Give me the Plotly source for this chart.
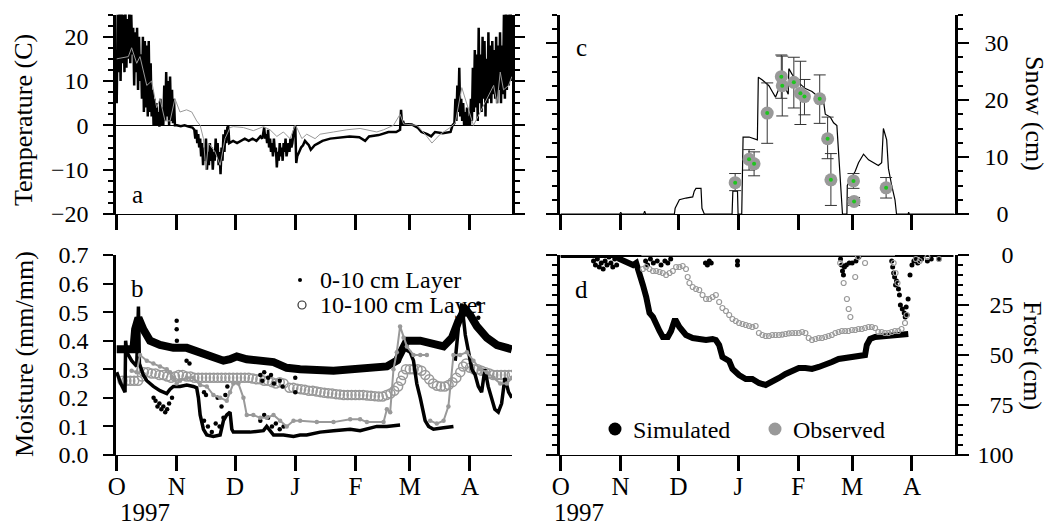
import pandas as pd
import plotly.graph_objects as go

BASE = pd.Timestamp("1997-10-01")

# ---------------- data (day offset from 1 Oct 1997, value) ----------------
month_ticks = ["1997-10-01", "1997-11-01", "1997-12-01", "1998-01-01",
               "1998-02-01", "1998-03-01", "1998-04-01"]
month_labels = ["O", "N", "D", "J", "F", "M", "A"]

# (a) temperature: simulated soil surface (black) and observed (grey)
temp_sim = [(0,5),(0.5,25),(1,12),(1.5,26),(2,10),(2.5,26),(3,14),(3.5,25),(4,12),(4.5,26),
            (5,13),(5.5,24),(6,15),(6.5,26),(7,14),(7.5,25),(8,16),(8.5,22),(9,9),(9.5,21),
            (10,12),(10.5,22),(11,8),(11.5,20),(12,10),(12.5,16),(13,6),(13.5,20),(14,3),(14.5,19),
            (15,4),(15.5,18),(16,2),(16.5,19),(17,3),(17.5,14),(18,2),(18.5,8),(19,0),(19.5,6),
            (20,0),(20.5,5),(21,0),(21.5,3),(22,-0.3),(22.5,6),(23,0),(23.5,4),(24,0),(24.5,9),
            (25,1),(25.5,12),(26,2),(26.5,10),(27,0),(27.5,11),(28,1),(28.5,8),(29,0.5),(29.5,6),
            (30,0),(31,0),(33,-0.2),(35,0),(37,-0.3),(39,-0.5),(40,-1),(40.5,-3),(41,-1),(41.5,-4),
            (42,-2),(42.5,-5),(43,-3),(43.5,-7),(44,-4),(44.5,-9),(45,-5),(45.5,-8),(46,-3),(46.5,-10),
            (47,-6),(47.5,-9),(48,-4),(48.5,-8),(49,-5),(49.5,-10),(50,-6),(50.5,-8),(51,-3),(51.5,-7),
            (52,-4),(52.5,-9),(53,-6),(53.5,-11),(54,-5),(54.5,-8),(55,-2),(55.5,-6),(56,-1),(56.5,-4),
            (57,-0.5),(57.5,-0.2),(58,-4),(60,-3.5),(62,-4),(64,-3.5),(66,-3),(68,-3.5),(70,-3),
            (72,-3.5),(74,-2.5),(75,-3),(76,-0.5),(76.5,-3),(77,-2),(77.5,-4),(78,-1),(78.5,-5),
            (79,-3),(79.5,-6),(80,-4),(80.5,-7),(81,-3),(81.5,-6),(82,-5),(82.5,-9.5),(83,-6),(83.5,-8),
            (84,-4),(84.5,-7),(85,-5),(85.5,-8),(86,-4),(86.5,-6),(87,-3),(87.5,-7),(88,-5),(88.5,-4),
            (89,-6),(89.5,-3),(90,-5),(90.5,-4),(91,-2),(91.5,-1),(92,0),(92.5,-8.5),(93,-7),(94,-6),
            (95,-5),(96,-4.5),(97,-3.5),(98,-4),(99,-4.5),(100,-5.5),(102,-4.5),(104,-4),(106,-3.5),
            (110,-3),(115,-2.8),(120,-2.5),(125,-2.7),(128,-3.5),(130,-2.5),(135,-2.2),(140,-1.5),
            (144,-1.5),(146,-1),(146.5,3.5),(147,0),(147.5,1),(148,0.3),(152,0.2),(155,-0.5),
            (157,-1.5),(160,-2),(162,-2.5),(164,-1.5),(168,-1.8),(172,-1.5),(173,0),(174,0.5),
            (174.5,6),(175,1),(175.5,9),(176,3),(176.5,13),(177,2),(177.5,6),(178,1),(178.5,5),
            (179,0),(179.5,3),(180,0),(180.5,4),(181,0),(181.5,2),(182,0),(182.5,6),(183,1),(183.5,13),
            (184,3),(184.5,17),(185,4),(185.5,16),(186,1),(186.5,22),(187,5),(187.5,16),(188,3),
            (188.5,20),(189,6),(189.5,19),(190,2),(190.5,15),(191,5),(191.5,21),(192,6),(192.5,18),
            (193,5),(193.5,19),(194,7),(194.5,17),(195,6),(195.5,20),(196,5),(196.5,18),(197,8),
            (197.5,21),(198,5),(198.5,18),(199,7),(199.5,25),(200,6),(200.5,26),(201,8),(201.5,25),
            (202,9),(202.5,26),(203,10),(203.5,26)]
temp_obs = [(0,15),(6,15.5),(7.7,17.5),(10.3,14),(12,15.5),(15.5,9),(18,10),(20.6,4),(22.3,6),
            (24.9,1),(27.5,1),(30,6),(32.6,3),(36,3.5),(38.7,3),(41.2,1),(43,0),(44.7,-3),
            (45.9,-10),(47.3,-4),(50.7,-6),(53.3,-9),(55.8,-3),(58.4,-0.5),(60.1,-0.3),(65.3,-0.5),
            (70.4,-1.2),(75.6,-0.3),(79,-1),(82.5,-2.5),(85.9,-1.5),(89.3,-3),(91.9,0),(92.8,-0.5),
            (95.4,-3),(97.9,-2),(102.2,-3),(104.8,-2),(111.7,-1.5),(118.6,-1),(125.4,-0.7),
            (128.9,-1),(134,-1.5),(137.5,-1),(142.6,0),(146,2.5),(147.8,0.3),(154.6,0),(158.9,-2),
            (162.4,-4),(166.7,-2),(171.8,-0.5),(174.4,0.5),(177.8,8.5),(180.4,5),(183.8,0),
            (187.3,3),(190.7,6),(194.2,9),(195.9,5),(197.6,12),(199.3,8),(201.9,9),(203.6,11)]

# (b) soil moisture
sim_deep = [(0,0.37),(8.6,0.37),(9.5,0.44),(11.2,0.48),(13.7,0.44),(17.2,0.40),(22.3,0.385),
            (29.2,0.375),(36.1,0.375),(43,0.36),(49.8,0.34),(55,0.33),(58.4,0.335),(61.9,0.345),
            (67,0.335),(73.9,0.33),(80.8,0.325),(87.6,0.305),(94.5,0.30),(111.7,0.295),(128.9,0.30),
            (139.2,0.31),(144.3,0.33),(147.8,0.37),(149.5,0.40),(156.4,0.40),(163.2,0.385),
            (168.4,0.38),(172.7,0.41),(176.1,0.47),(179.6,0.51),(182.1,0.49),(185.6,0.45),
            (190.7,0.41),(195.9,0.385),(203.6,0.37)]
sim_top = [(0,0.29),(2.1,0.25),(4.3,0.22),(4.6,0.40),(5.2,0.36),(7.7,0.33),(10.3,0.31),(11.2,0.52),
           (11.7,0.32),(13.7,0.28),(15.5,0.26),(18.9,0.24),(22.3,0.225),(25.8,0.215),(27.5,0.23),
           (29.2,0.24),(32.6,0.24),(36.1,0.245),(39.5,0.24),(41.2,0.235),(42.1,0.20),(43,0.14),
           (44.7,0.09),(46.4,0.07),(49.8,0.065),(53.3,0.07),(55,0.12),(56.7,0.14),(58.4,0.15),
           (59.3,0.09),(60.1,0.08),(68.7,0.08),(75.6,0.085),(77.3,0.10),(80.8,0.07),(85.9,0.07),
           (91.1,0.065),(94.5,0.07),(97.9,0.07),(101.4,0.075),(104.8,0.08),(111.7,0.085),
           (120.3,0.09),(125.4,0.085),(128.9,0.09),(134,0.10),(139.2,0.10),(146,0.105),(146.9,None),
           (148.6,0.37),(151.2,0.36),(152.9,0.33),(154.6,0.25),(156.4,0.20),(158.9,0.12),
           (160.7,0.10),(163.2,0.09),(168.4,0.095),(173.5,0.10),(174,None),(174.4,0.33),
           (176.1,0.45),(177.8,0.53),(179.6,0.42),(181.3,0.36),(183,0.30),(184.7,0.28),(186.3,0.24),
           (188,0.22),(189.7,0.30),(191.4,0.24),(193.1,0.20),(194.8,0.16),(196.6,0.15),(198.3,0.18),
           (200,0.27),(201.9,0.22),(203.6,0.20)]
sim_top_scatter = [(19,0.20),(20,0.19),(21,0.17),(22,0.18),(23,0.16),(24,0.17),(25,0.15),(26,0.16),
                   (27,0.18),(28.5,0.20),(30.9,0.47),(30.9,0.44),(31,0.40),(36,0.33),(37.5,0.32),
                   (45,0.12),(47,0.10),(49,0.08),(51,0.11),(53,0.10),(55,0.13),(45,0.22),(46,0.21),
                   (52,0.20),(54,0.17),(56,0.21),(57,0.24),(74,0.28),(75,0.26),(76,0.29),(78,0.27),
                   (79.5,0.28),(81,0.25),(84,0.26),(85.5,0.24),(74,0.12),(76,0.14),(78,0.13),(80,0.10),
                   (82,0.11),(84,0.09),(86,0.10),(92,0.27),(92,0.22),(145.5,0.33),(146.5,0.36),
                   (186.3,0.53),(186.3,0.48)]
obs_top = [(7.7,0.295),(10.3,0.29),(12,0.35),(15.5,0.33),(18.9,0.32),(22.3,0.31),(25.8,0.30),
           (27.5,0.29),(29.2,0.27),(30.9,0.25),(32.6,0.26),(36.1,0.27),(39.5,0.27),(43,0.245),
           (46.4,0.24),(49.8,0.21),(53.3,0.20),(56.7,0.19),(58.4,0.22),(60.1,0.25),(62.7,0.25),
           (65.3,0.20),(67,0.14),(70.4,0.14),(73.9,0.13),(77.3,0.13),(80.8,0.14),(84.2,0.12),
           (87.6,0.10),(91.1,0.12),(94.5,0.12),(103.1,0.115),(111.7,0.115),(120.3,0.125),
           (125.4,0.125),(128.9,0.115),(137.5,0.115),(139.2,0.16),(140.9,0.15),(142.6,0.30),
           (144.3,0.36),(146,0.45),(147.8,0.41),(149.5,0.38),(152.9,0.35),(156.4,0.35),(159.8,0.35),
           (160.5,None),(161.5,0.12),(164.9,0.11),(168.4,0.12),(170.9,0.17),(173.5,0.35),
           (176.9,0.35),(180.4,0.36),(183.8,0.33),(187.3,0.30),(190.7,0.29),(194.2,0.27),
           (197.6,0.25),(201,0.25),(203.6,0.27)]
obs_deep = [(3,0.26),(5,0.26),(7,0.26),(9,0.26),(11,0.26),(13,0.275),(14,0.29),(16,0.29),(18,0.285),
            (20,0.285),(22,0.28),(24,0.28),(26,0.275),(28,0.27),(30,0.275),(32,0.28),(34,0.28),
            (36,0.275),(38,0.275),(40,0.27),(42,0.27),(44,0.27),(46,0.27),(48,0.27),(50,0.27),
            (52,0.27),(54,0.27),(56,0.27),(58,0.27),(60,0.27),(62,0.27),(64,0.27),(66,0.27),
            (68,0.27),(70,0.268),(72,0.265),(74,0.265),(76,0.26),(78,0.26),(80,0.255),(82,0.25),
            (84,0.255),(86,0.25),(89,0.235),(91,0.235),(93,0.232),(95,0.23),(97,0.228),(99,0.225),
            (101,0.225),(103,0.222),(105,0.22),(107,0.218),(109,0.216),(111,0.215),(113,0.213),
            (115,0.212),(117,0.21),(119,0.21),(121,0.21),(123,0.21),(125,0.21),(127,0.21),
            (129,0.208),(131,0.207),(133,0.206),(135,0.205),(137,0.205),(139,0.21),(141,0.215),
            (143,0.225),(145,0.24),(146.5,0.26),(147.5,0.28),(149,0.30),(151,0.30),(153,0.30),
            (155,0.30),(157,0.295),(159,0.28),(161,0.265),(163,0.25),(165,0.242),(167,0.24),
            (169,0.24),(171,0.245),(173,0.255),(175,0.27),(177,0.29),(178.5,0.31),(180,0.32),
            (182,0.305),(184,0.30),(186,0.30),(188,0.295),(190,0.29),(192,0.285),(194,0.28),
            (196,0.28),(198,0.28),(200,0.28),(202,0.28),(203.5,0.28)]

# (c) snow depth: simulated (line) and observed (points with error bars)
snow_sim = [(0,0),(30.6,0),(31.1,0.3),(31.6,0),(43,0),(43.5,0.5),(44,0),(58.9,0),(59.3,1),
            (61.5,2.5),(64.9,2.8),(68.4,3),(69.2,4),(70.1,4.5),(72.7,4.5),(73.2,1),(74.4,0),
            (88.8,0),(89.2,4),(91.6,4),(91.9,0),(93.8,0),(94.5,13.5),(97.6,13.5),(101.9,13),
            (102.4,24),(104.5,23.5),(106.2,23),(107.9,22.5),(109.6,21.5),(111.3,20.5),(113.1,22),
            (114.8,23.5),(116.5,22),(117.9,21),(118.2,25.5),(119.9,24.5),(123.4,23),(126.8,22),
            (130.2,21.5),(133.7,20.5),(136.3,19.5),(137.1,17.5),(139.7,17),(141.4,16),(143.1,15.5),
            (144,10),(145.4,2),(146,0),(148.3,0),(148.5,5),(150.9,6.5),(152.6,7.5),(154.3,9),
            (156.9,10.5),(159.5,9.5),(162,9),(164.6,8.5),(166.3,9),(167.2,15),(168.9,13),(169.8,8),
            (171.5,5),(173.2,2.5),(174,0),(180,0),(180.3,0.3),(180.6,0),(204,0)]
snow_obs_day = [90.4, 97.6, 100.2, 107.0, 114.3, 114.8, 120.8, 124.2, 126.3, 134.2, 138.3, 140.0,
                151.7, 152.0, 168.6]
snow_obs = [5.5, 9.6, 8.8, 17.7, 24.1, 22.5, 23.1, 21.2, 20.6, 20.2, 13.2, 6.0, 5.8, 2.2, 4.6]
snow_err_hi = [1.6, 1.7, 2.1, 5.3, 3.8, 5.2, 4.4, 5.6, 3.0, 4.2, 3.8, 4.6, 1.3, 0.7, 1.8]
snow_err_lo = [1.4, 1.9, 2.1, 5.3, 3.8, 5.3, 4.5, 5.5, 3.2, 4.3, 3.5, 4.5, 1.3, 0.7, 1.8]

# (d) frost depth
frost_sim = [(0,0),(30,0),(30.6,2),(34,3.5),(37.5,5),(39.1,4),(40.9,9),(42.6,15),(44.3,21),(46,29),
             (47.8,31),(49.5,35),(51.2,38),(52.9,41),(55.5,41),(57.2,38),(58.9,33),(59.8,33),
             (61.5,36),(64.9,40),(68.4,41.5),(71.8,42),(75.3,42.5),(78.7,42),(80.4,42.5),(82.1,45),
             (83.8,51),(87.3,53),(89,57),(92.4,60),(95.9,62),(99.3,62),(102.7,64),(106.2,65),
             (109.6,63.5),(113.1,61.5),(116.5,59.5),(119.9,58),(123.4,56.5),(126.8,56.5),(130.2,57),
             (133.7,56),(137.1,55),(140.5,53.5),(144,52),(147.4,51.5),(150.9,51),(154.3,50.5),
             (157.7,50),(158.6,45),(160.3,42),(162.9,41),(168,40.5),(173.2,40.5),(178.4,40),
             (180.1,39.5)]
frost_sim_surface = [(0,0),(203.5,0)]
frost_sim_scatter = [(17,3),(18,5),(19,2),(20,6),(21,4),(22,7),(23,3),(24,5),(25,1),(26,4),(27,6),
                     (28,2),(29,5),(44,3),(45,5),(46.5,2),(48,4),(50,3),(52,5),(54,3),(55.5,4),(57,2),
                     (75,4),(76,5),(77,3),(78,4),(91.6,3),(91.6,5),(145,2),(145.5,5),(146,8),(146.5,10),
                     (147,6),(148,5),(149.5,4),(151,4),(153,3),(154.5,1),(171.5,3),(172,6),(172.5,9),
                     (173,11),(173.5,15),(174,13),(175,17),(175.5,20),(176,25),(177,27),(178,29),
                     (178.5,31),(179,26),(179.5,30),(180,22),(181,10),(182,5),(183,3),(184,2),(185,4),
                     (187,2),(190,3),(192,2),(196,2)]
frost_obs = [(42.6,7),(44.3,6),(46,7),(47.8,8),(49.5,8),(51.2,8.5),(52.9,9),(54.6,10),(56.4,9),
             (58.1,8),(59.8,6),(61.5,6),(63.2,5.5),(64.9,7),(65.8,11),(66.7,14),(68.4,16),(70.1,17),
             (71.8,17.5),(73.5,20),(75.3,22),(77,22),(78.7,21),(80.4,20),(82.1,23.5),(83.8,26.5),
             (85.6,28),(87.3,30),(89,32),(90.7,33),(92.4,34),(94.2,34.5),(95.9,35),(97.6,35.5),
             (99.3,36),(101,35.5),(102.7,39),(104.5,40),(106.2,40.5),(107.9,40.5),(109.6,40),
             (111.3,40),(113.1,40),(114.8,39.8),(116.5,39.5),(118.2,39.2),(119.9,39),(121.6,39),
             (123.4,39),(125.1,38.5),(126.8,39),(128.5,41.5),(130.2,42.5),(132,42),(133.7,41.5),
             (135.4,41.5),(137.1,41),(138.8,40.5),(140.5,40),(142.3,39),(144,38.5),(145.7,38),
             (147.4,38),(149.1,38),(150.9,37.5),(152.6,37.5),(154.3,37),(156,37),(157.7,36.5),
             (159.5,36),(161.2,36),(162.9,36.5),(164.6,38.5),(166.3,38.5),(168,39),(169.8,39),
             (171.5,38.5),(173.2,38),(174.9,38),(176.6,37),(178.4,34),(179.2,30)]
frost_obs_surface = [(41.8,0),(173.2,0)]
frost_obs_scatter = [(144.8,4),(146.6,14),(148.3,22),(149.2,27),(150.1,31),(152.6,11),(154,1),
                     (157.7,4),(172.5,4),(173.5,9),(174.5,14),(184,2),(186,3),(190,1),(196,2)]

# ---------------------------------------------------------------------------
FONT = "Times New Roman, Liberation Serif, DejaVu Serif, Noto Serif, serif"
GREY = "#999999"


def split(pairs):
    xs = [BASE + pd.Timedelta(days=float(d)) for d, _ in pairs]
    ys = [v for _, v in pairs]
    return xs, ys


def dates(days):
    return [BASE + pd.Timedelta(days=float(d)) for d in days]


fig = go.Figure()

# panel a
x, y = split(temp_sim)
fig.add_trace(go.Scatter(x=x, y=y, mode="lines", line=dict(color="black", width=2.5),
                         xaxis="x", yaxis="y", showlegend=False))
x, y = split(temp_obs)
fig.add_trace(go.Scatter(x=x, y=y, mode="lines", line=dict(color=GREY, width=1),
                         xaxis="x", yaxis="y", showlegend=False))

# panel b
x, y = split(obs_deep)
fig.add_trace(go.Scatter(x=x, y=y, mode="markers", xaxis="x2", yaxis="y2", showlegend=False,
                         marker=dict(symbol="circle-open", size=9, color=GREY,
                                     line=dict(width=1.5, color=GREY))))
x, y = split(sim_deep)
fig.add_trace(go.Scatter(x=x, y=y, mode="lines", line=dict(color="black", width=8),
                         xaxis="x2", yaxis="y2", showlegend=False))
x, y = split(sim_top)
fig.add_trace(go.Scatter(x=x, y=y, mode="lines", line=dict(color="black", width=3.5),
                         connectgaps=False, xaxis="x2", yaxis="y2", showlegend=False))
x, y = split(sim_top_scatter)
fig.add_trace(go.Scatter(x=x, y=y, mode="markers", marker=dict(color="black", size=4.5),
                         xaxis="x2", yaxis="y2", showlegend=False))
x, y = split(obs_top)
fig.add_trace(go.Scatter(x=x, y=y, mode="lines+markers", line=dict(color=GREY, width=2),
                         marker=dict(color=GREY, size=4.5), connectgaps=False,
                         xaxis="x2", yaxis="y2", showlegend=False))

# panel c
x, y = split(snow_sim)
fig.add_trace(go.Scatter(x=x, y=y, mode="lines", line=dict(color="black", width=1.2),
                         xaxis="x3", yaxis="y3", showlegend=False))
fig.add_trace(go.Scatter(x=dates(snow_obs_day), y=snow_obs, mode="markers",
                         marker=dict(color=GREY, size=13),
                         error_y=dict(type="data", array=snow_err_hi, arrayminus=snow_err_lo,
                                      color="#333333", thickness=1, width=6),
                         xaxis="x3", yaxis="y3", showlegend=False))
fig.add_trace(go.Scatter(x=dates(snow_obs_day), y=snow_obs, mode="markers",
                         marker=dict(color="#1fc41f", size=4),
                         xaxis="x3", yaxis="y3", showlegend=False))

# panel d
x, y = split(frost_sim_surface)
fig.add_trace(go.Scatter(x=x, y=y, mode="lines", line=dict(color="black", width=4),
                         xaxis="x4", yaxis="y4", showlegend=False))
x, y = split(frost_sim)
fig.add_trace(go.Scatter(x=x, y=y, mode="lines", line=dict(color="black", width=6),
                         xaxis="x4", yaxis="y4", showlegend=False))
x, y = split(frost_sim_scatter)
fig.add_trace(go.Scatter(x=x, y=y, mode="markers", marker=dict(color="black", size=5),
                         xaxis="x4", yaxis="y4", showlegend=False))
x, y = split(frost_obs_surface)
fig.add_trace(go.Scatter(x=x, y=y, mode="lines", line=dict(color=GREY, width=2),
                         xaxis="x4", yaxis="y4", showlegend=False))
x, y = split(frost_obs)
fig.add_trace(go.Scatter(x=x, y=y, mode="markers", xaxis="x4", yaxis="y4", showlegend=False,
                         marker=dict(symbol="circle-open", size=5, color=GREY,
                                     line=dict(width=1.2, color=GREY))))
x, y = split(frost_obs_scatter)
fig.add_trace(go.Scatter(x=x, y=y, mode="markers", xaxis="x4", yaxis="y4", showlegend=False,
                         marker=dict(symbol="circle-open", size=5, color=GREY,
                                     line=dict(width=1.2, color=GREY))))

# ---------------------------------------------------------------------------
LX = [116 / 1050, 512 / 1050]
RX = [559.5 / 1050, 955 / 1050]
TY = [1 - 214 / 525, 1 - 14.5 / 525]
BY = [1 - 455 / 525, 1 - 255 / 525]
rng_l = [BASE + pd.Timedelta(days=-0.36), BASE + pd.Timedelta(days=203.66)]
rng_r = [BASE + pd.Timedelta(days=-0.62), BASE + pd.Timedelta(days=204.3)]
moist_rng = [-0.0001, 0.7001]

tickfont = dict(family=FONT, size=24, color="black")


def xax(domain, anchor, rng, labels):
    return dict(domain=domain, anchor=anchor, range=rng, type="date", automargin=False,
                tickmode="array", tickvals=month_ticks, ticktext=month_labels,
                showticklabels=labels, ticks="outside", ticklen=15, tickwidth=2.5,
                tickcolor="black", showline=True, linecolor="black", linewidth=1,
                showgrid=False, zeroline=False, tickfont=dict(family=FONT, size=25, color="black"),
                ticklabelstandoff=-6)


def minor(dt, ln=5):
    return dict(ticks="outside", dtick=dt, ticklen=ln, tickwidth=1.5, tickcolor="black",
                showgrid=False)


fig.update_layout(
    width=1050, height=525, margin=dict(l=0, r=0, t=0, b=0, autoexpand=False),
    paper_bgcolor="white", plot_bgcolor="white", showlegend=False,
    font=dict(family=FONT, color="black"),
    xaxis=xax(LX, "y", rng_l, False),
    xaxis2=xax(LX, "y2", rng_l, True),
    xaxis3=xax(RX, "y3", rng_r, False),
    xaxis4=xax(RX, "y4", rng_r, True),
    yaxis=dict(domain=TY, anchor="x", range=[-20, 25], tickmode="linear", tick0=0, dtick=10,
               automargin=False, ticks="outside", ticklen=10, tickwidth=2, tickcolor="black",
               showline=True, linecolor="black", linewidth=2.5, mirror="ticks",
               showgrid=False, zeroline=True, zerolinecolor="black", zerolinewidth=1,
               tickfont=tickfont, minor=minor(2.5), ticklabelstandoff=10),
    yaxis2=dict(domain=BY, anchor="x2", range=moist_rng, tickmode="linear", tick0=0,
                dtick=0.1, tickformat=".1f", automargin=False,
                ticks="outside", ticklen=10, tickwidth=2, tickcolor="black",
                showline=True, linecolor="black", linewidth=2.5, mirror=False,
                showgrid=False, zeroline=False, tickfont=tickfont, ticklabelstandoff=10),
    # right-hand frame of panel b: ticks every 0.05, no labels
    yaxis5=dict(domain=BY, anchor="x2", overlaying="y2", side="right", range=moist_rng,
                tickmode="linear", tick0=0, dtick=0.05, showticklabels=False, automargin=False,
                ticks="outside", ticklen=8, tickwidth=1.5, tickcolor="black",
                showline=True, linecolor="black", linewidth=2.5, showgrid=False, zeroline=False),
    yaxis3=dict(domain=TY, anchor="x3", side="right", range=[0, 35], tickmode="array",
                tickvals=[0, 10, 20, 30], ticktext=["\u20070", "10", "20", "30"],
                automargin=False, ticks="outside", ticklen=11, tickwidth=2, tickcolor="black",
                showline=True, linecolor="black", linewidth=2.5, mirror="ticks",
                showgrid=False, zeroline=False, tickfont=tickfont,
                minor=dict(tickmode="linear", tick0=0, dtick=2.5, ticks="outside", ticklen=5,
                           tickwidth=1.5, tickcolor="black", showgrid=False),
                ticklabelstandoff=11),
    yaxis4=dict(domain=BY, anchor="x4", side="right", range=[100, 0], tickmode="array",
                tickvals=[0, 25, 50, 75, 100],
                ticktext=["\u2007\u20070", "\u200725", "\u200750", "\u200775", "100"],
                automargin=False, ticks="outside", ticklen=11, tickwidth=2, tickcolor="black",
                showline=True, linecolor="black", linewidth=2.5, mirror="ticks",
                showgrid=False, zeroline=False, tickfont=tickfont,
                minor=dict(tickmode="linear", tick0=0, dtick=5, ticks="outside", ticklen=5,
                           tickwidth=1.5, tickcolor="black", showgrid=False),
                ticklabelstandoff=4),
)


def px(xp):
    return xp / 1050


def py(yp):
    return 1 - yp / 525


ann = []


def text(x, y, s, size=24, xanchor="center", angle=0):
    ann.append(dict(x=px(x), y=py(y), xref="paper", yref="paper", text=s, showarrow=False,
                    xanchor=xanchor, yanchor="middle", textangle=angle,
                    font=dict(family=FONT, size=size, color="black")))


# axis titles
text(24, 120, "Temperature (C)", 26, angle=-90)
text(24, 354, "Moisture (mm/mm)", 26, angle=-90)
text(1035, 113, "Snow (cm)", 26, angle=90)
text(1033, 355, "Frost (cm)", 26, angle=90)
# panel letters
text(137, 194, "a", 25)
text(137, 288, "b", 25)
text(581, 47, "c", 25)
text(581, 289, "d", 25)
# year labels
text(118, 512, "1997", 25, xanchor="left")
text(552, 512, "1997", 25, xanchor="left")
# legends
text(318, 280, "0-10 cm Layer", 24, xanchor="left")
text(318, 305, "10-100 cm Layer", 24, xanchor="left")
text(631, 430, "Simulated", 24, xanchor="left")
text(791, 430, "Observed", 24, xanchor="left")
fig.update_layout(annotations=ann)

shapes = [
    dict(type="circle", xref="paper", yref="paper", x0=px(298), x1=px(302), y0=py(282), y1=py(278),
         fillcolor="black", line=dict(width=0)),
    dict(type="circle", xref="paper", yref="paper", x0=px(298), x1=px(306), y0=py(309), y1=py(301),
         fillcolor="white", line=dict(width=1.2, color="#333333")),
    dict(type="circle", xref="paper", yref="paper", x0=px(608.5), x1=px(621.5), y0=py(435.5),
         y1=py(422.5), fillcolor="black", line=dict(width=0)),
    dict(type="circle", xref="paper", yref="paper", x0=px(768.5), x1=px(781.5), y0=py(435.5),
         y1=py(422.5), fillcolor=GREY, line=dict(width=0)),
]
fig.update_layout(shapes=shapes)

fig.write_html("out.html")
